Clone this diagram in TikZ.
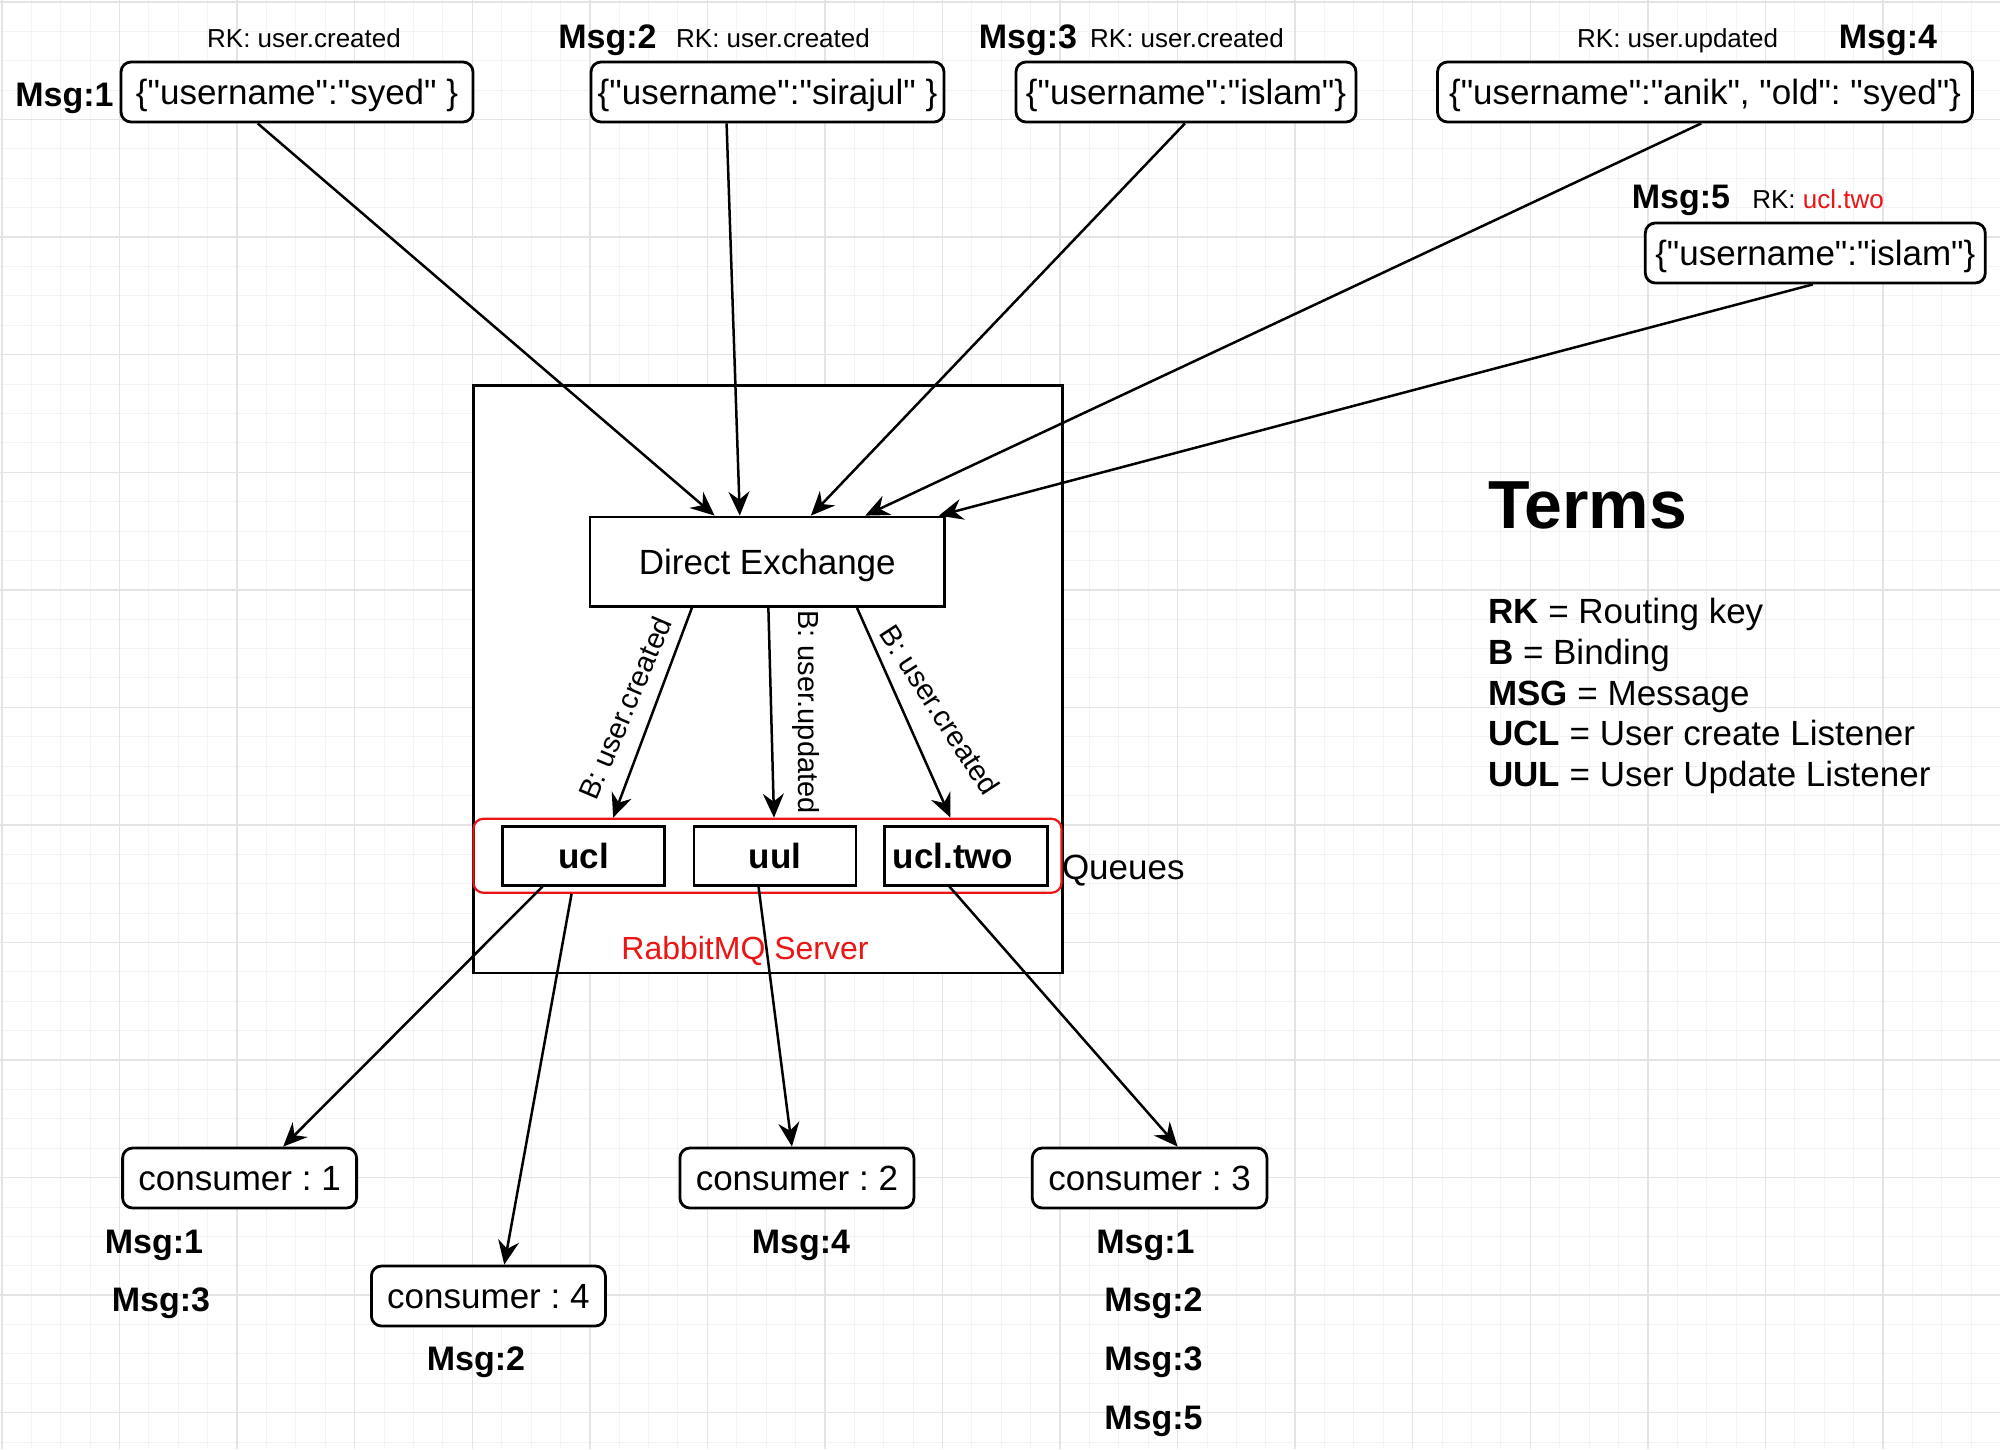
\documentclass[tikz,border=0pt]{standalone}
\usepackage{fontspec}
\setmainfont{Liberation Sans}[Ligatures=TeXOff]
\usetikzlibrary{arrows.meta,calc}
\newcommand\fsz[1]{\fontsize{#1pt}{#1pt}\selectfont}
\definecolor{gridminor}{RGB}{243,243,243}
\definecolor{gridmajor}{RGB}{228,228,228}
\definecolor{srvred}{RGB}{236,20,20}
\frenchspacing

\begin{document}
\begin{tikzpicture}[x=1pt,y=-1pt,
  txt/.style={inner sep=0pt,outer sep=0pt,anchor=base},
  msg/.style={txt,font=\fsz{34}\bfseries},
  rk/.style={txt,font=\fsz{26}},
  payload/.style={draw,line width=2.8pt,rounded corners=10pt,fill=white,inner sep=0pt,
    font=\fsz{35},text height=25pt,text depth=0pt,minimum height=60pt},
  plainbox/.style={draw,line width=2.8pt,fill=white,inner sep=0pt,
    font=\fsz{35},text height=25pt,text depth=0pt},
  queuebox/.style={plainbox,font=\fsz{35}\bfseries,minimum width=162pt,minimum height=59pt},
  consumerbox/.style={payload,minimum width=234pt},
  binding/.style={inner sep=0pt,font=\fsz{29}},
  arr/.style={line width=2.5pt,-{Stealth[length=24pt,width=21pt,inset=8pt]}},
  term/.style={txt,anchor=base west,font=\fsz{35}}
]
% canvas and grid
\fill[white] (0,0) rectangle (2000,1449);
\useasboundingbox (0,0) rectangle (2000,1449);
\foreach \i in {0,...,68} \draw[gridminor,line width=1pt] ({2+\i*29.39},0) -- ({2+\i*29.39},1449);
\foreach \i in {0,...,49} \draw[gridminor,line width=1pt] (0,{2+\i*29.39}) -- (2000,{2+\i*29.39});
\foreach \i in {0,...,17} \draw[gridmajor,line width=1.4pt] ({2+\i*117.56},0) -- ({2+\i*117.56},1449);
\foreach \i in {0,...,12} \draw[gridmajor,line width=1.4pt] (0,{2+\i*117.56}) -- (2000,{2+\i*117.56});

% RabbitMQ server
\node[draw,line width=2.8pt,fill=white,minimum width=588.8pt,minimum height=587.2pt,inner sep=0pt] (server) at (768,679.4) {};
\node[txt,font=\fsz{32},text=srvred] (srvlabel) at (745,959.5) {RabbitMQ Server};
\node[draw=srvred,line width=2.2pt,rounded corners=10pt,minimum width=588pt,minimum height=74pt,inner sep=0pt] (queues) at (767.5,855.75) {};
\node[txt,anchor=base west,font=\fsz{35}] (queuelabel) at (1062,879.5) {Queues};

\node[plainbox,minimum width=354.6pt,minimum height=89.5pt] (exchange) at (767.3,561.75) {Direct Exchange};
\node[queuebox] (ucl) at (583.75,855.6) {ucl};
\node[queuebox] (uul) at (775,855.6) {uul};
\node[queuebox,minimum width=163pt] (ucltwo) at (966,855.6) {};
\node[txt,font=\fsz{35}\bfseries,anchor=base] (ucltwotext) at (953,868) {ucl.two};

% published messages
\node[payload,minimum width=352pt] (m1) at (297,92) {\{"username":"syed" \}};
\node[payload,minimum width=353pt] (m2) at (767.5,92) {\{"username":"sirajul" \}};
\node[payload,minimum width=340pt] (m3) at (1186,92) {\{"username":"islam"\}};
\node[payload,minimum width=535pt] (m4) at (1705,92) {\{"username":"anik", "old": "syed"\}};
\node[payload,minimum width=340pt] (m5) at (1815.3,253) {\{"username":"islam"\}};

\node[msg] (m1id) at (64.5,106) {Msg:1};
\node[rk] (m1rk) at (304,47) {RK: user.created};
\node[msg] (m2id) at (607.5,48) {Msg:2};
\node[rk] (m2rk) at (773,47) {RK: user.created};
\node[msg] (m3id) at (1028,48) {Msg:3};
\node[rk] (m3rk) at (1187,47) {RK: user.created};
\node[rk] (m4rk) at (1677.6,47) {RK: user.updated};
\node[msg] (m4id) at (1888,48) {Msg:4};
\node[msg] (m5id) at (1681,208) {Msg:5};
\node[rk] (m5rk) at (1818,208) {RK: \textcolor{srvred}{ucl.two}};

% consumers
\node[consumerbox] (c1) at (239.6,1178) {consumer : 1};
\node[consumerbox] (c2) at (796.9,1178) {consumer : 2};
\node[consumerbox,minimum width=234.7pt] (c3) at (1149.6,1178) {consumer : 3};
\node[consumerbox] (c4) at (488.4,1296) {consumer : 4};

\node[msg] (c1a) at (154,1253) {Msg:1};
\node[msg] (c1b) at (161,1311) {Msg:3};
\node[msg] (c4a) at (476,1370) {Msg:2};
\node[msg] (c2a) at (801,1253) {Msg:4};
\node[msg] (c3a) at (1145.5,1253) {Msg:1};
\node[msg] (c3b) at (1153.5,1311) {Msg:2};
\node[msg] (c3c) at (1153.5,1370) {Msg:3};
\node[msg] (c3d) at (1153.5,1429) {Msg:5};

% publish into the exchange
\draw[arr] ($(m1.south west)!0.389!(m1.south east)$) -- ($(exchange.north west)!0.3525!(exchange.north east)$);
\draw[arr] ($(m2.south west)!0.385!(m2.south east)$) -- ($(exchange.north west)!0.423!(exchange.north east)$);
\draw[arr] ($(m3.south west)!0.497!(m3.south east)$) -- ($(exchange.north west)!0.622!(exchange.north east)$);
\draw[arr] ($(m4.south west)!0.493!(m4.south east)$) -- ($(exchange.north west)!0.774!(exchange.north east)$);
\draw[arr] ($(m5.south west)!0.493!(m5.south east)$) -- ($(exchange.north west)!0.98!(exchange.north east)$);

% bindings
\draw[arr] ($(exchange.south west)!0.289!(exchange.south east)$) -- ($(queues.north west)!0.2385!(queues.north east)$);
\draw[arr] ($(exchange.south west)!0.503!(exchange.south east)$) -- ($(queues.north west)!0.511!(queues.north east)$);
\draw[arr] ($(exchange.south west)!0.751!(exchange.south east)$) -- ($(queues.north west)!0.81!(queues.north east)$);
\node[binding,rotate=67] (b1) at (625,708) {B: user.created};
\node[binding,rotate=-90] (b2) at (806,712) {B: user.updated};
\node[binding,rotate=-57] (b3) at (940,710) {B: user.created};

% deliveries to consumers
\draw[arr] ($(ucl.south west)!0.25!(ucl.south east)$) -- ($(c1.north west)!0.684!(c1.north east)$);
\draw[arr] ($(queues.south west)!0.168!(queues.south east)$) -- ($(c4.north west)!0.567!(c4.north east)$);
\draw[arr] ($(uul.south west)!0.40!(uul.south east)$) -- ($(c2.north west)!0.479!(c2.north east)$);
\draw[arr] ($(ucltwo.south west)!0.40!(ucltwo.south east)$) -- ($(c3.north west)!0.618!(c3.north east)$);

% legend
\node[txt,anchor=base west,font=\fsz{68}\bfseries] (terms) at (1488,528) {Terms};
\node[term] (t1) at (1488,623) {\textbf{RK} = Routing key};
\node[term] (t2) at (1488,664) {\textbf{B} = Binding};
\node[term] (t3) at (1488,705) {\textbf{MSG} = Message};
\node[term] (t4) at (1488,745.5) {\textbf{UCL} = User create Listener};
\node[term] (t5) at (1488,786.5) {\textbf{UUL} = User Update Listener};
\end{tikzpicture}
\end{document}
